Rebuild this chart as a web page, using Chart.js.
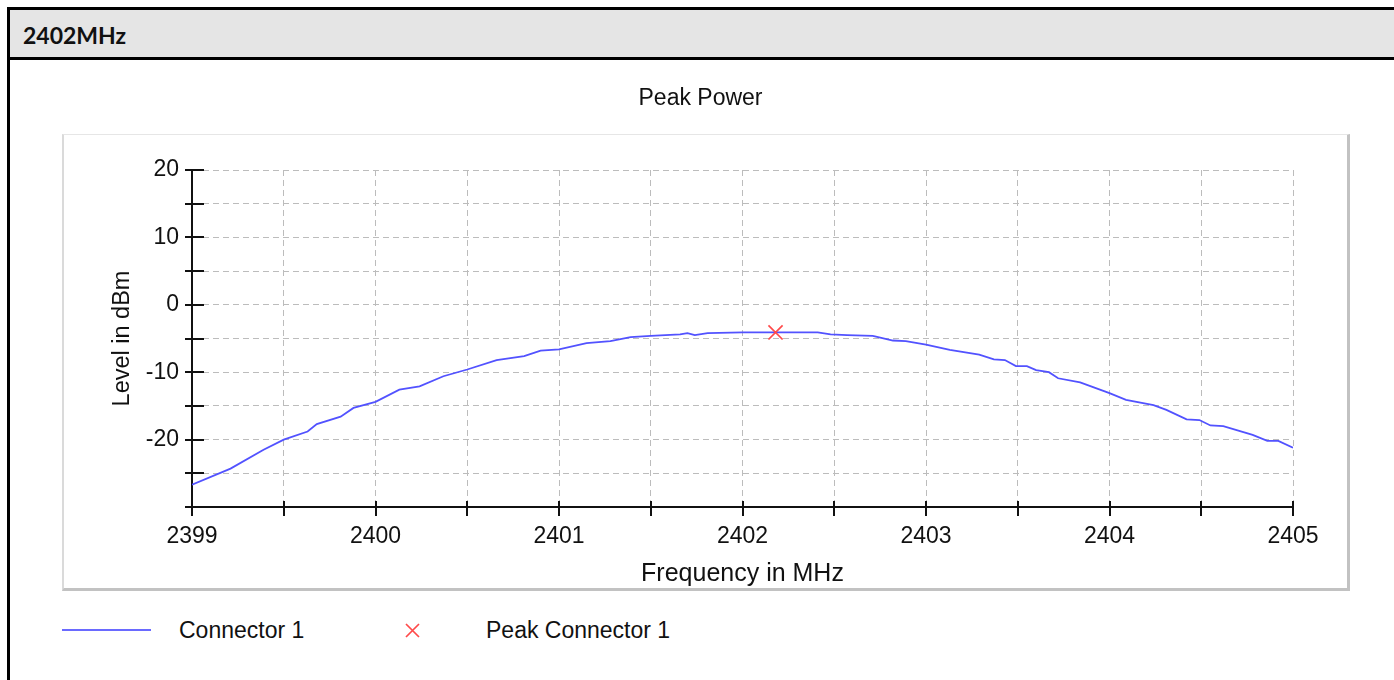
<!DOCTYPE html>
<html>
<head>
<meta charset="utf-8">
<script src="https://cdn.jsdelivr.net/npm/chart.js@4.4.1/dist/chart.umd.min.js"></script>
<style>
  html, body { margin:0; padding:0; background:#fff; width:1394px; height:680px; overflow:hidden; position:relative; }
  #frame { position:absolute; left:7px; top:7px; width:1387px; height:673px; border-left:3px solid #000; border-top:3px solid #000; box-sizing:border-box; }
  #header { position:absolute; left:10px; top:10px; width:1384px; height:47px; background:#e5e5e5; border-bottom:3px solid #000;
            font-family:Lato, 'Liberation Sans', sans-serif; font-weight:700; font-size:23px; line-height:50px; color:#111; box-sizing:content-box; }
  #header span { position:absolute; left:13px; top:0; }
  #box { position:absolute; left:62px; top:134px; width:1283px; height:453px; border-top:1px solid #e6e6e6; border-left:2px solid #dadada;
         border-right:3px solid #c2c2c2; border-bottom:3px solid #c2c2c2; background:#fff; }
  #chartWrap { position:absolute; left:0; top:60px; width:1394px; height:545px; }
  #legend { position:absolute; left:0; top:612px; width:1394px; height:40px; font-family:'Liberation Sans', Arial, sans-serif; font-size:23px; color:#111; }
  .lg-line { position:absolute; left:62px; top:17px; width:89px; height:2px; background:#6a6aff; }
  .lg-t1 { position:absolute; left:179px; top:5px; }
  .lg-x { position:absolute; left:404px; top:10px; width:17px; height:17px; }
  .lg-t2 { position:absolute; left:486px; top:5px; }
</style>
</head>
<body>
<div id="frame"></div>
<div id="header"><span>2402MHz</span></div>
<div id="box"></div>
<div id="chartWrap"><canvas id="c" width="1394" height="545"></canvas></div>
<div id="legend">
  <div class="lg-line"></div>
  <div class="lg-t1">Connector 1</div>
  <svg class="lg-x" viewBox="0 0 17 17"><path d="M2 2 L15 15 M15 2 L2 15" stroke="#ff4a4a" stroke-width="1.7" fill="none"/></svg>
  <div class="lg-t2">Peak Connector 1</div>
</div>
<script>
// ---- data ----
const freqMHz = [2399.00, 2399.21, 2399.39, 2399.50, 2399.63, 2399.68, 2399.81, 2399.88, 2400.00, 2400.13,
                 2400.24, 2400.37, 2400.50, 2400.66, 2400.81, 2400.90, 2401.00, 2401.15, 2401.28, 2401.39,
                 2401.50, 2401.66, 2401.70, 2401.74, 2401.81, 2402.00, 2402.18, 2402.41, 2402.48, 2402.57,
                 2402.71, 2402.82, 2402.89, 2403.00, 2403.13, 2403.29, 2403.37, 2403.43, 2403.49, 2403.55,
                 2403.60, 2403.67, 2403.72, 2403.84, 2404.00, 2404.09, 2404.24, 2404.31, 2404.42, 2404.49,
                 2404.55, 2404.62, 2404.78, 2404.86, 2404.92, 2405.00];
const levelDbm = [-26.7, -24.3, -21.5, -20.0, -18.8, -17.7, -16.6, -15.3, -14.4, -12.6,
                  -12.1, -10.6, -9.6, -8.2, -7.6, -6.8, -6.6, -5.7, -5.4, -4.8,
                  -4.6, -4.4, -4.2, -4.5, -4.2, -4.1, -4.1, -4.1, -4.4, -4.5,
                  -4.6, -5.3, -5.4, -5.9, -6.7, -7.4, -8.1, -8.2, -9.1, -9.1,
                  -9.7, -10.0, -10.9, -11.5, -13.1, -14.1, -14.9, -15.6, -17.0, -17.1,
                  -17.9, -18.0, -19.3, -20.2, -20.2, -21.2];
const peakFreq = [2402.18];
const peakLevel = [-4.1];
const xTickLabels = [2399, 2400, 2401, 2402, 2403, 2404, 2405];
const yTickLabels = [20, 10, 0, -10, -20];

const FONT = "'Liberation Sans', Arial, sans-serif";
const INK = '#111111';

const crossTicks = {
  id: 'crossTicks',
  afterDraw(chart) {
    const ctx = chart.ctx, xs = chart.scales.x, ys = chart.scales.y;
    ctx.save();
    ctx.strokeStyle = INK; ctx.lineWidth = 2; ctx.setLineDash([]);
    ctx.beginPath();
    ys.ticks.forEach(t => {
      const py = Math.round(ys.getPixelForValue(t.value));
      ctx.moveTo(ys.right - 7, py); ctx.lineTo(ys.right + 12, py);
    });
    xs.ticks.forEach(t => {
      const px = Math.round(xs.getPixelForValue(t.value));
      ctx.moveTo(px, xs.top - 6); ctx.lineTo(px, xs.top + 9);
    });
    ctx.stroke();
    ctx.restore();
  }
};

new Chart(document.getElementById('c'), {
  type: 'scatter',
  data: {
    datasets: [
      {
        label: 'Connector 1',
        data: freqMHz.map((f, i) => ({ x: f, y: levelDbm[i] })),
        showLine: true,
        borderColor: '#5252ff',
        borderWidth: 1.8,
        pointRadius: 0,
        tension: 0,
        order: 2
      },
      {
        label: 'Peak Connector 1',
        data: peakFreq.map((f, i) => ({ x: f, y: peakLevel[i] })),
        showLine: false,
        pointStyle: 'crossRot',
        pointRadius: 10,
        borderColor: '#ff4a4a',
        borderWidth: 1.7,
        order: 1
      }
    ]
  },
  options: {
    responsive: false,
    animation: false,
    devicePixelRatio: 1,
    layout: { padding: { left: 108, right: 101, top: 0, bottom: 16 } },
    plugins: {
      legend: { display: false },
      tooltip: { enabled: false },
      title: {
        display: true, text: 'Peak Power', color: INK,
        font: { family: FONT, size: 23, weight: 'normal' },
        padding: { top: 24.5, bottom: 57.9 }
      }
    },
    scales: {
      x: {
        type: 'linear', min: 2399, max: 2405,
        afterFit(s) { s.height = 82; },
        ticks: {
          stepSize: 0.5, autoSkip: false, maxRotation: 0, color: INK, padding: 7.5,
          font: { family: FONT, size: 23 },
          callback: v => xTickLabels.includes(v) ? String(v) : ''
        },
        grid: { color: '#bcbcbc', lineWidth: 1, drawTicks: true, tickLength: 8, tickColor: 'rgba(0,0,0,0)' },
        border: { display: true, color: INK, width: 2, dash: [6, 4] },
        title: { display: true, text: 'Frequency in MHz', color: INK, font: { family: FONT, size: 25 }, padding: { top: 0, bottom: 0 } }
      },
      y: {
        type: 'linear', min: -30, max: 20,
        afterFit(s) { s.width = 84; },
        ticks: {
          stepSize: 5, autoSkip: false, color: INK, padding: 6,
          font: { family: FONT, size: 23 },
          callback: v => yTickLabels.includes(v) ? String(v) : ''
        },
        grid: { color: '#bcbcbc', lineWidth: 1, drawTicks: true, tickLength: 7, tickColor: 'rgba(0,0,0,0)' },
        border: { display: true, color: INK, width: 2, dash: [6, 4] },
        title: { display: true, text: 'Level in dBm', color: INK, font: { family: FONT, size: 23.5 }, padding: { top: 0, bottom: 0 } }
      }
    }
  },
  plugins: [crossTicks]
});
</script>
</body>
</html>
